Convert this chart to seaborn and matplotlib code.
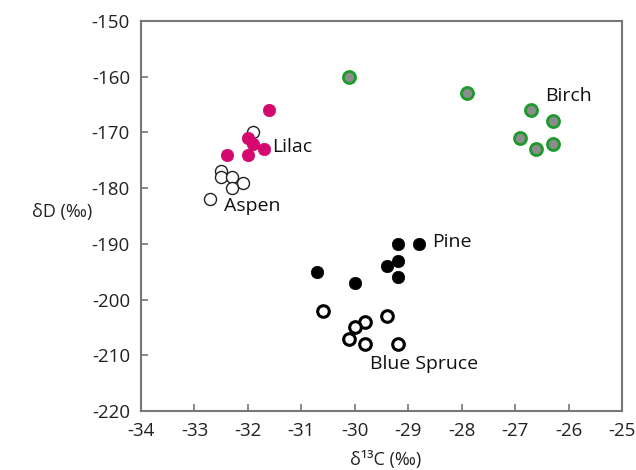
import pandas as pd
import matplotlib
matplotlib.use("Agg")
import matplotlib.pyplot as plt
import seaborn as sns

# ---------- DATA ----------
lilac_x = [-31.6, -32.0, -31.9, -31.7, -32.4, -32.0]
lilac_y = [-166, -171, -172, -173, -174, -174]

aspen_x = [-31.9, -32.5, -32.5, -32.3, -32.1, -32.3, -32.7]
aspen_y = [-170, -177, -178, -178, -179, -180, -182]

pine_x = [-29.2, -28.8, -29.2, -29.4, -29.2, -30.7, -30.0]
pine_y = [-190, -190, -193, -194, -196, -195, -197]

spruce_x = [-30.6, -29.4, -29.8, -30.0, -30.1, -29.8, -29.2]
spruce_y = [-202, -203, -204, -205, -207, -208, -208]

birch_x = [-30.1, -27.9, -26.7, -26.3, -26.9, -26.3, -26.6]
birch_y = [-160, -163, -166, -168, -171, -172, -173]

x_ticks = list(range(-34, -24))
y_ticks = list(range(-220, -149, 10))
# ---------------------------------------------------


def main():
    sns.set_style("white")
    plt.rcParams["font.family"] = ["Open Sans", "DejaVu Sans"]
    plt.rcParams["axes.unicode_minus"] = False

    groups = {
        "Aspen": (aspen_x, aspen_y),
        "Lilac": (lilac_x, lilac_y),
        "Pine": (pine_x, pine_y),
        "Blue Spruce": (spruce_x, spruce_y),
        "Birch": (birch_x, birch_y),
    }
    rows = []
    for name, (xs, ys) in groups.items():
        for x, y in zip(xs, ys):
            rows.append({"species": name, "d13C": x, "dD": y})
    df = pd.DataFrame(rows)

    fig = plt.figure(figsize=(6.36, 4.70), dpi=100)
    ax = fig.add_axes([0.2217, 0.1255, 0.7563, 0.8298])

    styles = {
        "Aspen": dict(facecolor="white", edgecolor="#222222", linewidth=1.0, s=75),
        "Lilac": dict(color="#d4086e", edgecolor="#d4086e", linewidth=0.5, s=80),
        "Pine": dict(color="black", edgecolor="black", linewidth=0.5, s=80),
        "Blue Spruce": dict(facecolor="white", edgecolor="black", linewidth=2.2, s=70),
        "Birch": dict(color="#8c8c8c", edgecolor="#1c9a2a", linewidth=2.0, s=75),
    }
    for name in groups:
        sub = df[df["species"] == name]
        sns.scatterplot(data=sub, x="d13C", y="dD", ax=ax, zorder=3,
                        legend=False, **styles[name])

    # group labels
    fs = 14
    ax.text(-31.55, -172.7, "Lilac", fontsize=fs, va="center", ha="left", color="#111111")
    ax.text(-32.45, -183.2, "Aspen", fontsize=fs, va="center", ha="left", color="#111111")
    ax.text(-28.55, -189.6, "Pine", fontsize=fs, va="center", ha="left", color="#111111")
    ax.text(-29.72, -211.6, "Blue Spruce", fontsize=fs, va="center", ha="left", color="#111111")
    ax.text(-26.43, -163.4, "Birch", fontsize=fs, va="center", ha="left", color="#111111")

    ax.set_xlim(-34, -25)
    ax.set_ylim(-220, -150)
    ax.set_xticks(x_ticks)
    ax.set_yticks(y_ticks)
    ax.tick_params(direction="in", length=5, width=1.2, color="#777777",
                   labelsize=13.5, labelcolor="#222222", pad=8,
                   bottom=True, left=True, top=False, right=False)
    for sp in ax.spines.values():
        sp.set_color("#777777")
        sp.set_linewidth(1.5)

    ax.set_xlabel("δ¹³C (‰)", fontsize=13, color="#222222", va="center")
    ax.xaxis.set_label_coords(0.509, -0.126)
    ax.set_ylabel("δD (‰)", fontsize=13, color="#222222", rotation=0,
                  ha="left", va="center")
    ax.yaxis.set_label_coords(-0.227, 0.51)

    fig.savefig("out.png", dpi=100)
    plt.close(fig)


if __name__ == "__main__":
    main()
